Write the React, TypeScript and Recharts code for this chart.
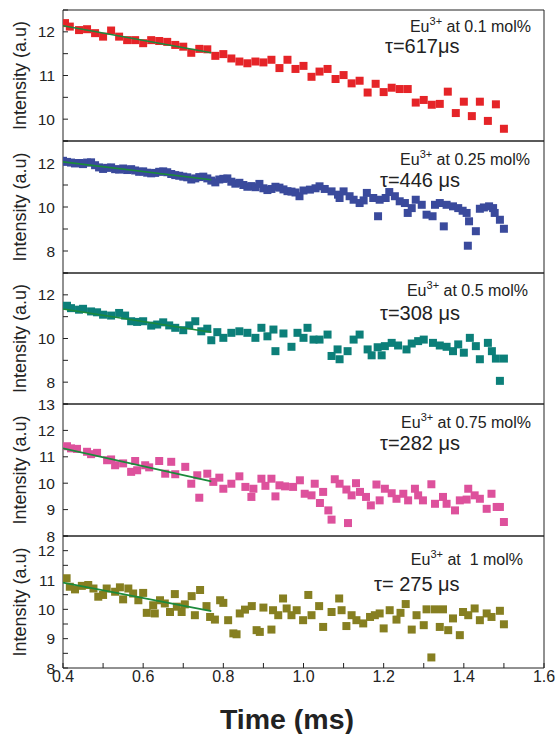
import React from "react"
import { ScatterChart, Scatter, XAxis, YAxis, ZAxis } from "recharts"

const FONT = "'Liberation Sans', Arial, Helvetica, sans-serif"
const INK = "#222"
const FIT = "#1b8a3c"

// time axis (ms)
const timeTicks = [0.4, 0.5, 0.6, 0.7, 0.8, 0.9, 1.0, 1.1, 1.2, 1.3, 1.4, 1.5, 1.6]
const timeLabels = [0.4, 0.6, 0.8, 1.0, 1.2, 1.4, 1.6]

// [time ms, intensity a.u.] per Eu3+ concentration
const eu010 = [
  [0.405, 12.2], [0.417, 12.12], [0.44, 12.04], [0.46, 12.06], [0.48, 11.97],
  [0.5, 11.89], [0.52, 12.03], [0.54, 11.89], [0.56, 11.81], [0.58, 11.81],
  [0.6, 11.74], [0.62, 11.81], [0.64, 11.79], [0.66, 11.77], [0.68, 11.7],
  [0.7, 11.66], [0.72, 11.52], [0.74, 11.61], [0.76, 11.6], [0.78, 11.45],
  [0.8, 11.49], [0.82, 11.39], [0.84, 11.32], [0.86, 11.28], [0.88, 11.32],
  [0.9, 11.3], [0.92, 11.36], [0.94, 11.17], [0.96, 11.36], [0.98, 11.15],
  [1.0, 11.22], [1.02, 10.97], [1.04, 11.09], [1.06, 11.15], [1.08, 10.92],
  [1.1, 11.01], [1.12, 10.82], [1.14, 10.88], [1.16, 10.61], [1.18, 10.81],
  [1.2, 10.62], [1.22, 10.72], [1.24, 10.69], [1.26, 10.69], [1.28, 10.38],
  [1.3, 10.44], [1.32, 10.33], [1.34, 10.35], [1.36, 10.63], [1.38, 10.14],
  [1.4, 10.4], [1.42, 10.07], [1.44, 10.4], [1.46, 9.96], [1.48, 10.34],
  [1.5, 9.78],
]

const eu025 = [
  [0.4, 12.1], [0.41, 12.05], [0.42, 12.02], [0.43, 11.98], [0.44, 12.0],
  [0.45, 11.95], [0.46, 12.02], [0.47, 12.03], [0.48, 11.9], [0.49, 11.8],
  [0.5, 11.73], [0.51, 11.78], [0.52, 11.8], [0.53, 11.72], [0.54, 11.7],
  [0.55, 11.75], [0.56, 11.68], [0.57, 11.72], [0.58, 11.66], [0.59, 11.6],
  [0.6, 11.62], [0.61, 11.56], [0.62, 11.53], [0.63, 11.55], [0.64, 11.6],
  [0.65, 11.62], [0.66, 11.58], [0.67, 11.5], [0.68, 11.45], [0.69, 11.42],
  [0.7, 11.38], [0.71, 11.35], [0.72, 11.25], [0.73, 11.3], [0.74, 11.36],
  [0.75, 11.38], [0.76, 11.3], [0.77, 11.2], [0.78, 11.12], [0.79, 11.25],
  [0.8, 11.28], [0.81, 11.3], [0.82, 11.15], [0.83, 11.06], [0.84, 11.1],
  [0.85, 11.0], [0.86, 10.92], [0.87, 10.95], [0.88, 10.9], [0.89, 11.05],
  [0.9, 10.85], [0.91, 10.77], [0.92, 10.82], [0.93, 10.92], [0.94, 10.88],
  [0.95, 10.8], [0.96, 10.72], [0.97, 10.7], [0.98, 10.66], [0.99, 10.49],
  [1.0, 10.75], [1.016, 10.79], [1.03, 10.85], [1.04, 10.94], [1.053, 10.82],
  [1.07, 10.71], [1.086, 10.56], [1.09, 10.41], [1.1, 10.71], [1.115, 10.49],
  [1.125, 10.33], [1.14, 10.18], [1.15, 10.3], [1.158, 10.64], [1.174, 10.41],
  [1.186, 9.58], [1.19, 10.33], [1.205, 10.41], [1.214, 10.68], [1.228, 10.49],
  [1.24, 10.26], [1.253, 10.18], [1.26, 9.73], [1.27, 9.95], [1.28, 10.33],
  [1.295, 10.1], [1.307, 9.65], [1.322, 9.58], [1.328, 10.1], [1.34, 10.18],
  [1.35, 9.12], [1.357, 10.1], [1.373, 10.03], [1.386, 9.95], [1.397, 9.83],
  [1.407, 9.73], [1.41, 8.24], [1.413, 9.35], [1.43, 8.9], [1.44, 9.92],
  [1.45, 9.98], [1.463, 10.03], [1.473, 9.95], [1.477, 9.73], [1.49, 9.42],
  [1.5, 9.01],
]

const eu050 = [
  [0.41, 11.5], [0.42, 11.39], [0.44, 11.32], [0.45, 11.36], [0.47, 11.24],
  [0.485, 11.2], [0.5, 11.09], [0.52, 11.05], [0.54, 11.17], [0.555, 11.05],
  [0.57, 10.79], [0.585, 10.76], [0.6, 10.79], [0.62, 10.59], [0.635, 10.64],
  [0.65, 10.74], [0.665, 10.6], [0.68, 10.49], [0.7, 10.38], [0.715, 10.6],
  [0.73, 10.79], [0.745, 10.33], [0.76, 10.45], [0.77, 9.92], [0.785, 10.29],
  [0.8, 10.03], [0.82, 10.26], [0.84, 10.33], [0.86, 10.26], [0.88, 10.03],
  [0.895, 10.49], [0.91, 10.1], [0.925, 10.41], [0.93, 9.42], [0.95, 10.23],
  [0.97, 9.62], [0.985, 10.26], [1.0, 10.03], [1.01, 10.49], [1.025, 9.95],
  [1.04, 9.95], [1.06, 10.18], [1.07, 9.2], [1.085, 9.5], [1.09, 9.05],
  [1.11, 9.42], [1.125, 9.95], [1.14, 10.18], [1.16, 9.5], [1.17, 9.23],
  [1.185, 9.6], [1.195, 9.23], [1.203, 9.65], [1.22, 9.8], [1.236, 9.68],
  [1.257, 9.5], [1.27, 9.77], [1.286, 9.88], [1.3, 9.95], [1.323, 9.8],
  [1.34, 9.68], [1.357, 9.62], [1.373, 9.42], [1.386, 9.73], [1.4, 9.35],
  [1.415, 10.03], [1.43, 9.65], [1.44, 9.05], [1.46, 9.8], [1.47, 9.42],
  [1.48, 9.08], [1.49, 8.06], [1.5, 9.08],
]

const eu075 = [
  [0.41, 11.4], [0.42, 11.32], [0.435, 11.3], [0.46, 11.19], [0.47, 11.1],
  [0.485, 11.15], [0.51, 10.87], [0.52, 10.9], [0.53, 10.68], [0.55, 10.75],
  [0.57, 10.43], [0.58, 10.84], [0.585, 10.49], [0.605, 10.68], [0.615, 10.6],
  [0.64, 10.84], [0.655, 10.36], [0.67, 10.81], [0.68, 10.34], [0.705, 10.62],
  [0.72, 9.98], [0.735, 10.3], [0.74, 9.45], [0.76, 10.36], [0.775, 10.05],
  [0.79, 10.21], [0.8, 9.79], [0.82, 9.98], [0.84, 10.26], [0.855, 9.86],
  [0.87, 9.48], [0.875, 9.79], [0.895, 10.17], [0.905, 9.9], [0.92, 10.17],
  [0.93, 9.5], [0.94, 9.92], [0.954, 9.88], [0.974, 9.86], [0.991, 10.11],
  [1.003, 9.6], [1.02, 9.54], [1.028, 9.98], [1.041, 9.25], [1.049, 9.67],
  [1.062, 8.97], [1.07, 8.62], [1.078, 10.15], [1.09, 9.98], [1.107, 9.76],
  [1.111, 8.49], [1.12, 9.54], [1.131, 10.0], [1.141, 9.67], [1.156, 9.48],
  [1.168, 9.16], [1.182, 9.95], [1.19, 9.35], [1.203, 9.79], [1.22, 9.62],
  [1.232, 9.41], [1.249, 9.6], [1.261, 9.35], [1.278, 9.79], [1.286, 9.54],
  [1.298, 9.35], [1.319, 9.96], [1.328, 9.22], [1.348, 9.48], [1.357, 9.22],
  [1.378, 8.97], [1.39, 9.35], [1.407, 9.38], [1.411, 9.79], [1.427, 9.54],
  [1.44, 9.41], [1.457, 9.03], [1.469, 9.6], [1.482, 9.1], [1.49, 9.1],
  [1.5, 8.53],
]

const eu100 = [
  [0.409, 11.06], [0.417, 10.77], [0.43, 10.68], [0.447, 10.8], [0.463, 10.83],
  [0.476, 10.71], [0.488, 10.43], [0.5, 10.49], [0.509, 10.71], [0.53, 10.6],
  [0.542, 10.75], [0.55, 10.34], [0.563, 10.71], [0.575, 10.54], [0.588, 10.31],
  [0.6, 10.56], [0.609, 9.88], [0.625, 10.14], [0.629, 9.86], [0.642, 10.31],
  [0.654, 10.2], [0.667, 9.91], [0.679, 10.52], [0.684, 10.09], [0.696, 9.91],
  [0.704, 10.17], [0.721, 10.45], [0.729, 9.8], [0.742, 10.66], [0.758, 10.11],
  [0.767, 9.74], [0.779, 9.65], [0.792, 10.31], [0.8, 10.22], [0.812, 9.63],
  [0.825, 9.18], [0.833, 9.15], [0.841, 9.86], [0.854, 9.99], [0.871, 10.11],
  [0.883, 9.29], [0.891, 9.23], [0.9, 10.06], [0.92, 9.31], [0.924, 9.97],
  [0.937, 9.8], [0.949, 10.37], [0.958, 10.03], [0.97, 9.8], [0.983, 9.97],
  [0.999, 9.63], [1.012, 10.49], [1.02, 9.8], [1.039, 10.11], [1.049, 9.4],
  [1.07, 9.91], [1.089, 10.37], [1.095, 9.97], [1.107, 9.43], [1.12, 9.8],
  [1.132, 9.63], [1.149, 9.52], [1.166, 9.74], [1.178, 9.8], [1.19, 9.86],
  [1.2, 9.35], [1.215, 9.97], [1.232, 9.65], [1.242, 9.88], [1.255, 10.18],
  [1.27, 9.31], [1.282, 9.8], [1.3, 9.46], [1.307, 10.0], [1.319, 8.36],
  [1.328, 10.0], [1.34, 9.4], [1.348, 10.0], [1.361, 9.29], [1.373, 9.69],
  [1.39, 9.12], [1.398, 9.91], [1.411, 9.8], [1.427, 10.03], [1.44, 9.63],
  [1.457, 9.86], [1.469, 9.74], [1.49, 9.95], [1.5, 9.49],
]

// single-exponential fits, start and end of the fitted window
const fit010 = [[0.4, 12.14], [0.77, 11.52]]
const fit025 = [[0.4, 12.05], [0.77, 11.24]]
const fit050 = [[0.4, 11.35], [0.77, 10.29]]
const fit075 = [[0.4, 11.32], [0.77, 10.07]]
const fit100 = [[0.4, 10.91], [0.77, 9.94]]

const concentrations = ["0.1", "0.25", "0.5", "0.75", " 1"]
const lifetimes = ["=617μs", "=446 μs", "=308 μs", "=282 μs", "= 275 μs"]

const toPoints = (rows: number[][]) => rows.map(([x, y]) => ({ x, y }))

const panels = [
  {
    top: 10, height: 131, color: "#e52428", domain: [9.5, 12.5],
    ticks: [9.5, 10, 10.5, 11, 11.5, 12, 12.5], labels: [10, 11, 12],
    data: eu010, fit: fit010,
    eu: { x: 531, y: 32 }, tau: { x: 385, y: 53 },
  },
  {
    top: 141, height: 132, color: "#3a4a9c", domain: [7, 13],
    ticks: [7, 8, 9, 10, 11, 12, 13], labels: [8, 10, 12],
    data: eu025, fit: fit025,
    eu: { x: 530, y: 165 }, tau: { x: 380, y: 187 },
  },
  {
    top: 273, height: 131, color: "#0c7f79", domain: [7, 13],
    ticks: [7, 8, 9, 10, 11, 12, 13], labels: [8, 10, 12],
    data: eu050, fit: fit050,
    eu: { x: 528, y: 296 }, tau: { x: 380, y: 320 },
  },
  {
    top: 404, height: 132, color: "#dd519c", domain: [8, 13],
    ticks: [8, 9, 10, 11, 12, 13], labels: [8, 9, 10, 11, 12, 13],
    data: eu075, fit: fit075,
    eu: { x: 531, y: 428 }, tau: { x: 380, y: 450 },
  },
  {
    top: 536, height: 132, color: "#867f21", domain: [8, 12.5],
    ticks: [8, 8.5, 9, 9.5, 10, 10.5, 11, 11.5, 12, 12.5], labels: [8, 9, 10, 11, 12],
    data: eu100, fit: fit100,
    eu: { x: 523, y: 565 }, tau: { x: 374, y: 591 },
  },
]

const tickStyle = { fontSize: 15.5, fill: INK, fontFamily: FONT }

function Panel({ p, last }: { p: (typeof panels)[number]; last: boolean }) {
  const bottomAxis = last ? 30 : 1
  const h = p.height + 10 + (last ? bottomAxis : 10)
  return (
    <div style={{ position: "absolute", left: 0, top: p.top - 10 }}>
      <ScatterChart
        width={556}
        height={h}
        margin={{ top: 9, right: 11, bottom: last ? 0 : 9, left: 23 }}
      >
        <XAxis
          xAxisId="b"
          type="number"
          dataKey="x"
          domain={[0.4, 1.6]}
          ticks={timeTicks}
          allowDataOverflow
          height={bottomAxis}
          stroke={INK}
          tickSize={-5}
          tickMargin={8}
          tick={last ? { fontSize: 16, fill: INK, fontFamily: FONT } : false}
          tickFormatter={(v: number) =>
            timeLabels.some((t) => Math.abs(t - v) < 1e-6) ? v.toFixed(1) : ""
          }
          interval={0}
        />
        <XAxis
          xAxisId="t"
          orientation="top"
          type="number"
          domain={[0.4, 1.6]}
          ticks={timeTicks}
          allowDataOverflow
          height={1}
          stroke={INK}
          tickSize={-5}
          tick={false}
          interval={0}
        />
        <YAxis
          yAxisId="l"
          type="number"
          dataKey="y"
          domain={p.domain}
          ticks={p.ticks}
          allowDataOverflow
          width={40}
          stroke={INK}
          tickSize={-5}
          tickMargin={13}
          tick={tickStyle}
          tickFormatter={(v: number) => (p.labels.includes(v) ? String(v) : "")}
          interval={0}
        />
        <YAxis
          yAxisId="r"
          orientation="right"
          type="number"
          domain={p.domain}
          ticks={p.ticks}
          allowDataOverflow
          width={1}
          stroke={INK}
          tickSize={-5}
          tick={false}
          interval={0}
        />
        <ZAxis range={[80, 80]} />
        <Scatter
          xAxisId="b"
          yAxisId="l"
          data={toPoints(p.data)}
          fill={p.color}
          shape="square"
          isAnimationActive={false}
        />
        <Scatter
          xAxisId="b"
          yAxisId="l"
          data={toPoints(p.fit)}
          line={{ stroke: FIT, strokeWidth: 1.6 }}
          shape={() => <g />}
          isAnimationActive={false}
        />
      </ScatterChart>
    </div>
  )
}

export default function App() {
  return (
    <div
      style={{
        position: "absolute",
        left: 0,
        top: 0,
        width: 556,
        height: 734,
        background: "#fff",
        fontFamily: FONT,
      }}
    >
      {panels.map((p, i) => (
        <Panel key={i} p={p} last={i === panels.length - 1} />
      ))}
      <svg
        width={556}
        height={734}
        style={{ position: "absolute", left: 0, top: 0, pointerEvents: "none" }}
      >
        {panels.map((p, i) => (
          <g key={i} fill={INK} fontFamily={FONT}>
            <text
              transform={`translate(26,${p.top + p.height / 2}) rotate(-90)`}
              textAnchor="middle"
              fontSize={18}
            >
              Intensity (a.u)
            </text>
            <text x={p.eu.x} y={p.eu.y} textAnchor="end" fontSize={16} style={{ whiteSpace: "pre" }}>
              <tspan>Eu</tspan>
              <tspan dy={-7} fontSize={11}>3+</tspan>
              <tspan dy={7}>{` at ${concentrations[i]} mol%`}</tspan>
            </text>
            <text x={p.tau.x} y={p.tau.y} fontSize={20} style={{ whiteSpace: "pre" }}>
              {`τ${lifetimes[i]}`}
            </text>
          </g>
        ))}
        <text
          x={287}
          y={729}
          textAnchor="middle"
          fontSize={28.5}
          fontWeight="bold"
          fill={INK}
          fontFamily={FONT}
        >
          Time (ms)
        </text>
      </svg>
    </div>
  )
}
